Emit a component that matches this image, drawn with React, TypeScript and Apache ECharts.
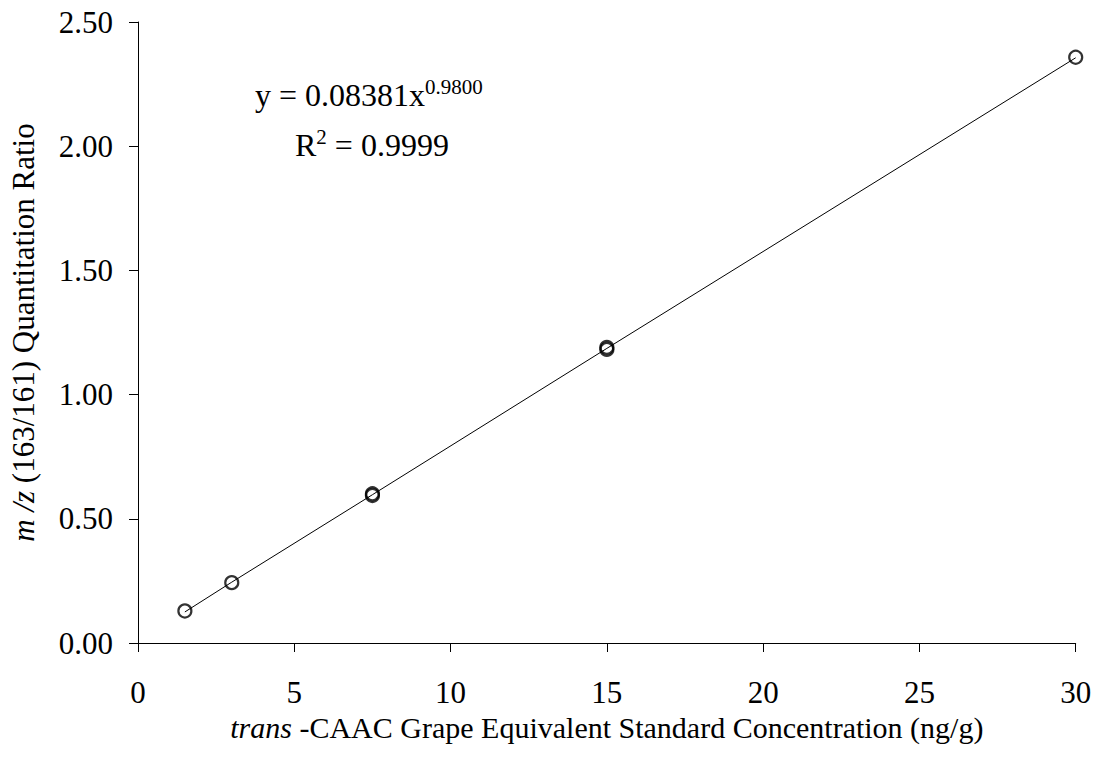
import React, { useEffect, useRef } from "react";
import * as echarts from "echarts";

const concentrations = [1.5, 3, 7.5, 7.5, 15, 15, 30];
const ratios = [0.129, 0.243, 0.601, 0.594, 1.19, 1.182, 2.358];
const trendX = [1.5, 3, 7.5, 15, 30];
const trendY = [0.125, 0.245, 0.597, 1.186, 2.356];
const equationText = "y = 0.08381x";
const exponentText = "0.9800";
const r2Value = "0.9999";
const xAxisTitle = "trans";
const xAxisTitleRest = " -CAAC Grape Equivalent Standard Concentration (ng/g)";
const yAxisTitleItalic = "m /z";
const yAxisTitleRest = " (163/161) Quantitation Ratio";

const FONT = "'Liberation Serif', 'Times New Roman', serif";

export default function App() {
  const ref = useRef<HTMLDivElement>(null);
  useEffect(() => {
    if (!ref.current) return;
    const chart = echarts.init(ref.current, null, { renderer: "svg" });
    const axisCommon = {
      axisLine: { show: true, lineStyle: { color: "#000", width: 1 } },
      axisTick: { show: true, inside: false, length: 9, lineStyle: { color: "#000", width: 1 } },
      splitLine: { show: false },
    };
    chart.setOption({
      animation: false,
      backgroundColor: "#fff",
      textStyle: { fontFamily: FONT },
      grid: { left: 137.7, right: 20.3, top: 22, bottom: 118, containLabel: false },
      xAxis: {
        type: "value",
        min: 0,
        max: 30,
        interval: 5,
        ...axisCommon,
        axisLabel: { color: "#000", fontSize: 31, fontFamily: FONT, margin: 34 },
        name: `{i|${xAxisTitle}}${xAxisTitleRest}`,
        nameLocation: "middle",
        nameGap: 69,
        nameTextStyle: {
          color: "#000",
          fontSize: 30,
          fontFamily: FONT,
          rich: { i: { fontStyle: "italic", fontSize: 30, fontFamily: FONT, color: "#000" } },
        },
      },
      yAxis: {
        type: "value",
        min: 0,
        max: 2.5,
        interval: 0.5,
        ...axisCommon,
        axisLabel: {
          color: "#000",
          fontSize: 31,
          fontFamily: FONT,
          margin: 25,
          formatter: (v: number) => v.toFixed(2),
        },
        name: `{i|${yAxisTitleItalic}}${yAxisTitleRest}`,
        nameLocation: "middle",
        nameGap: 99,
        nameTextStyle: {
          color: "#000",
          fontSize: 31,
          fontFamily: FONT,
          rich: { i: { fontStyle: "italic", fontSize: 31, fontFamily: FONT, color: "#000" } },
        },
      },
      series: [
        {
          type: "line",
          data: trendX.map((x, i) => [x, trendY[i]]),
          symbol: "none",
          lineStyle: { color: "#000", width: 1 },
          z: 1,
          silent: true,
        },
        {
          type: "scatter",
          data: concentrations.map((x, i) => [x, ratios[i]]),
          symbol: "circle",
          symbolSize: 13,
          itemStyle: { color: "rgba(255,255,255,0)", borderColor: "#000", borderWidth: 2.2 },
          z: 2,
        },
      ],
      graphic: [
        {
          type: "text",
          left: 255,
          top: 76,
          style: {
            text: `${equationText}{sup|${exponentText}}`,
            fontSize: 32,
            fontFamily: FONT,
            fill: "#000",
            rich: {
              sup: { fontSize: 21, fontFamily: FONT, fill: "#000", verticalAlign: "bottom", padding: [0, 0, 17, 0] },
            },
          },
        },
        {
          type: "text",
          left: 295,
          top: 126,
          style: {
            text: `R{sup|2} = ${r2Value}`,
            fontSize: 32,
            fontFamily: FONT,
            fill: "#000",
            rich: {
              sup: { fontSize: 21, fontFamily: FONT, fill: "#000", verticalAlign: "bottom", padding: [0, 0, 17, 0] },
            },
          },
        },
      ],
    });
    return () => chart.dispose();
  }, []);
  return (
    <div
      ref={ref}
      style={{ position: "fixed", left: 0, top: 0, width: 1096, height: 761, background: "#fff" }}
    />
  );
}
